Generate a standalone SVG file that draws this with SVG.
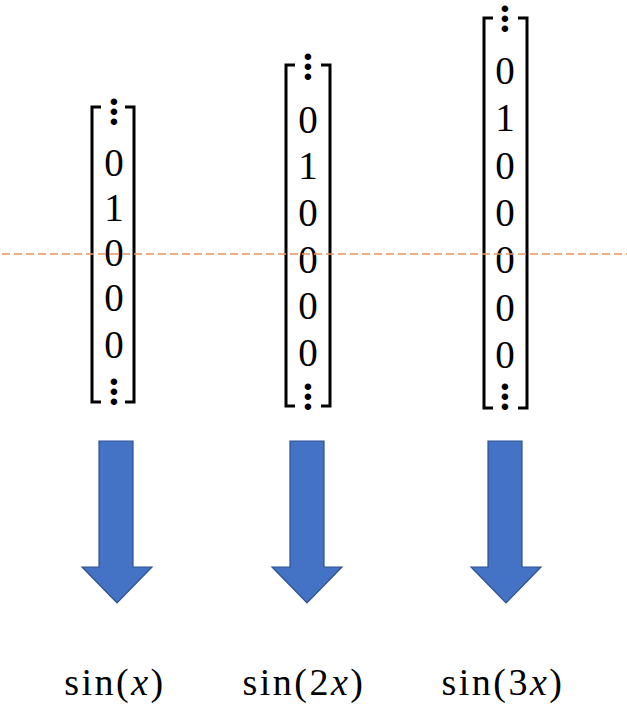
<svg xmlns="http://www.w3.org/2000/svg" width="627" height="712" viewBox="0 0 627 712">
<style>
.br{fill:none;stroke:#000;stroke-width:3}
.d{font-family:"Liberation Serif","DejaVu Serif",serif;font-size:39px;text-anchor:middle;fill:#000}
.e{font-family:"Liberation Serif","DejaVu Serif",serif;font-size:40px;font-weight:bold;text-anchor:middle;fill:#000}
.lab{font-family:"Liberation Serif","DejaVu Serif",serif;font-size:38px;letter-spacing:2.5px;text-anchor:middle;fill:#000}
.arr{fill:#4472C4;stroke:#2F528F;stroke-width:1.2}
.dash{stroke:#E8955A;stroke-width:1.6;stroke-dasharray:8 4;fill:none}
</style>
<rect width="627" height="712" fill="#fff"/>
<g id="matrix1">
<path class="br" d="M101,107 H92 V402 H101 M125,107 H134 V402 H125"/>
<text class="e"><tspan x="114" y="115">·</tspan><tspan x="114" y="125">·</tspan><tspan x="114" y="135">·</tspan></text>
<text class="d" x="114" y="176">0</text>
<text class="d" x="114" y="221">1</text>
<text class="d" x="114" y="266">0</text>
<text class="d" x="114" y="311">0</text>
<text class="d" x="114" y="358">0</text>
<text class="e"><tspan x="114" y="395">·</tspan><tspan x="114" y="405">·</tspan><tspan x="114" y="415">·</tspan></text>
</g>
<g id="matrix2">
<path class="br" d="M295,65 H286 V406 H295 M321,65 H330 V406 H321"/>
<text class="e"><tspan x="308" y="70">·</tspan><tspan x="308" y="80">·</tspan><tspan x="308" y="90">·</tspan></text>
<text class="d" x="308" y="133">0</text>
<text class="d" x="308" y="179">1</text>
<text class="d" x="308" y="226">0</text>
<text class="d" x="308" y="273">0</text>
<text class="d" x="308" y="319">0</text>
<text class="d" x="308" y="366">0</text>
<text class="e"><tspan x="308" y="400">·</tspan><tspan x="308" y="410">·</tspan><tspan x="308" y="420">·</tspan></text>
</g>
<g id="matrix3">
<path class="br" d="M493,18 H484 V408 H493 M518,18 H527 V408 H518"/>
<text class="e"><tspan x="505" y="22">·</tspan><tspan x="505" y="32">·</tspan><tspan x="505" y="42">·</tspan></text>
<text class="d" x="505" y="84">0</text>
<text class="d" x="505" y="131">1</text>
<text class="d" x="505" y="179">0</text>
<text class="d" x="505" y="226">0</text>
<text class="d" x="505" y="273">0</text>
<text class="d" x="505" y="321">0</text>
<text class="d" x="505" y="368">0</text>
<text class="e"><tspan x="505" y="400">·</tspan><tspan x="505" y="410">·</tspan><tspan x="505" y="420">·</tspan></text>
</g>
<g id="connectors">
<line class="dash" x1="2" y1="254" x2="627" y2="254"/>
<path class="arr" d="M99,441 H133 V567 H152 L117,603 L82,567 H99 Z"/>
<path class="arr" d="M290,441 H324 V567 H342 L307,603 L272,567 H290 Z"/>
<path class="arr" d="M488,441 H522 V567 H541 L506,603 L471,567 H488 Z"/>
</g>
<g id="label1"><text class="lab" x="115" y="695">sin(<tspan font-style="italic">x</tspan>)</text></g>
<g id="label2"><text class="lab" x="304" y="695">sin(2<tspan font-style="italic">x</tspan>)</text></g>
<g id="label3"><text class="lab" x="503" y="695">sin(3<tspan font-style="italic">x</tspan>)</text></g>
</svg>
